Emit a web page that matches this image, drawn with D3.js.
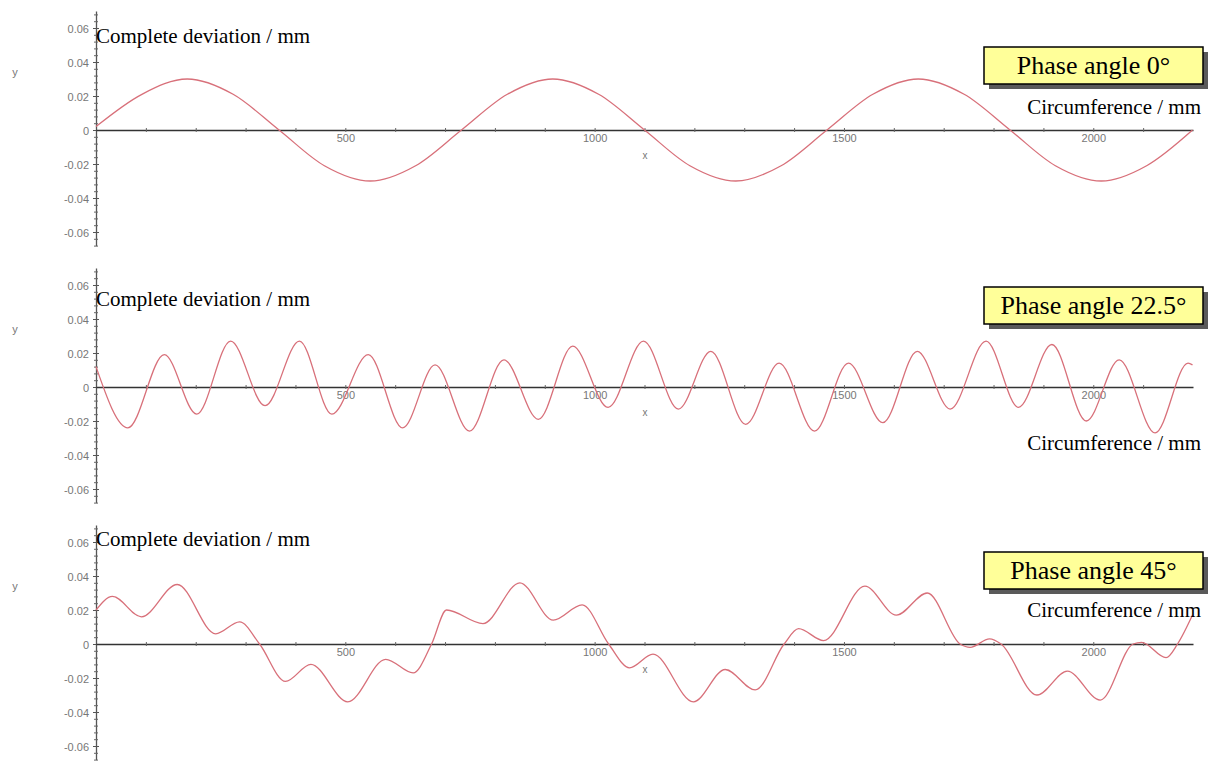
<!DOCTYPE html>
<html>
<head>
<meta charset="utf-8">
<script src="https://cdn.jsdelivr.net/npm/d3@7"></script>
<style>
  body { margin: 0; background: #fff; }
  .tick text { font-family: "Liberation Sans", Arial, sans-serif; font-size: 11px; fill: #777; }
  .serif { font-family: "Liberation Serif", "Times New Roman", serif; fill: #000; }
</style>
</head>
<body>
<svg id="chart" width="1208" height="761"></svg>
<script>
// circumference axis (mm) and deviation ticks
var xMajor = [500, 1000, 1500, 2000],
  yMajor = [-0.06, -0.04, -0.02, 0, 0.02, 0.04, 0.06],
  phaseLabels = ['Phase angle 0°', 'Phase angle 22.5°', 'Phase angle 45°'];

// phase angle 0
var xTop = [0, 92, 183, 275, 367, 458, 550, 641, 733, 825, 916, 1008, 1100,
  1191, 1283, 1374, 1466, 1558, 1649, 1741, 1833, 1924, 2016, 2107, 2199];
var yTop = [0.002, 0.021, 0.030, 0.021, 0, -0.021, -0.030, -0.021, 0, 0.021, 0.030, 0.021, 0,
  -0.021, -0.030, -0.021, 0, 0.021, 0.030, 0.021, 0, -0.021, -0.030, -0.021, 0];

// phase angle 22.5
var xMid = [0, 64, 137, 202, 270, 339, 408, 473, 546, 615, 680, 749, 818, 887, 956, 1027,
  1098, 1168, 1233, 1303, 1370, 1441, 1509, 1578, 1647, 1713, 1785, 1850, 1917, 1986,
  2052, 2124, 2190, 2199];
var yMid = [0.012, -0.024, 0.019, -0.016, 0.027, -0.011, 0.027, -0.016, 0.019, -0.024, 0.013,
  -0.026, 0.016, -0.019, 0.024, -0.012, 0.027, -0.013, 0.021, -0.022, 0.014, -0.026, 0.014,
  -0.021, 0.021, -0.013, 0.027, -0.012, 0.025, -0.020, 0.016, -0.027, 0.014, 0.013];

// phase angle 45
var xBot = [0, 33, 91, 163, 240, 288, 328, 380, 431, 505, 581, 636, 673, 703, 776, 850, 917,
  975, 1028, 1070, 1117, 1198, 1262, 1322, 1380, 1409, 1459, 1542, 1605, 1667, 1733, 1753,
  1792, 1815, 1887, 1948, 2014, 2080, 2097, 2146, 2169, 2199];
var yBot = [0.020, 0.028, 0.016, 0.035, 0.006, 0.013, 0, -0.022, -0.012, -0.034, -0.009,
  -0.017, 0, 0.020, 0.012, 0.036, 0.014, 0.023, 0, -0.014, -0.006, -0.034, -0.015, -0.027,
  0, 0.009, 0.002, 0.034, 0.017, 0.030, 0, -0.002, 0.003, 0, -0.030, -0.016, -0.033, 0,
  0.001, -0.008, 0, 0.017];

var panels = [
  { xs: xTop, ys: yTop, label: phaseLabels[0], zero: 130, box: -83, circ: -16, dev: -87 },
  { xs: xMid, ys: yMid, label: phaseLabels[1], zero: 387, box: -100, circ: 63, dev: -81 },
  { xs: xBot, ys: yBot, label: phaseLabels[2], zero: 644, box: -92, circ: -27, dev: -98 }
];

var svg = d3.select('#chart');

var x = d3.scaleLinear().domain([0, 2200]).range([96, 1193]);

panels.forEach(function(p) {
  var y = d3.scaleLinear().domain([-0.068, 0.07]).range([p.zero + 115.6, p.zero - 119]);
  var g = svg.append('g');

  // y axis: minor ticks
  g.append('g')
    .attr('transform', 'translate(96,0)')
    .call(d3.axisLeft(y).tickValues(d3.range(-0.068, 0.0681, 0.004)).tickSize(2).tickSizeOuter(0).tickFormat(''))
    .call(function(a) {
      a.select('.domain').attr('stroke', '#555').attr('stroke-width', 1.3);
      a.selectAll('.tick line').attr('x1', -2).attr('x2', 2).attr('stroke', '#666');
    });

  // y axis: major ticks + labels
  g.append('g')
    .attr('transform', 'translate(96,0)')
    .call(d3.axisLeft(y).tickValues(yMajor).tickSize(3).tickPadding(4)
      .tickFormat(function(d) { return Math.abs(d) < 1e-9 ? '0' : d.toFixed(2); }))
    .call(function(a) {
      a.select('.domain').remove();
      a.selectAll('.tick line').attr('x1', -3).attr('x2', 3).attr('stroke', '#555');
      a.selectAll('.tick text').attr('dy', '0.42em');
    });

  // x axis: minor ticks
  g.append('g')
    .attr('transform', 'translate(0,' + p.zero + ')')
    .call(d3.axisBottom(x).tickValues(d3.range(100, 2200, 100)).tickSize(2).tickSizeOuter(0).tickFormat(''))
    .call(function(a) {
      a.select('.domain').attr('stroke', '#333').attr('stroke-width', 1.4);
      a.selectAll('.tick line').attr('y1', -2).attr('y2', 2).attr('stroke', '#666');
    });

  // x axis: labels
  g.append('g')
    .attr('transform', 'translate(0,' + p.zero + ')')
    .call(d3.axisBottom(x).tickValues(xMajor).tickSize(0).tickPadding(4).tickFormat(d3.format('d')))
    .call(function(a) {
      a.select('.domain').remove();
    });

  // axis names
  g.append('text').attr('x', 15).attr('y', p.zero - 54)
    .attr('text-anchor', 'middle')
    .style('font-family', 'Liberation Sans, Arial, sans-serif').style('font-size', '11px').style('fill', '#777')
    .text('y');
  g.append('text').attr('x', 645).attr('y', p.zero + 29)
    .attr('text-anchor', 'middle')
    .style('font-family', 'Liberation Sans, Arial, sans-serif').style('font-size', '10px').style('fill', '#777')
    .text('x');

  // curve
  var line = d3.line()
    .x(function(d) { return x(d[0]); })
    .y(function(d) { return y(d[1]); })
    .curve(d3.curveMonotoneX);
  g.append('path')
    .datum(d3.zip(p.xs, p.ys))
    .attr('d', line)
    .attr('fill', 'none')
    .attr('stroke', '#d8707a')
    .attr('stroke-width', 1.3);

  // titles
  g.append('text').attr('class', 'serif').attr('x', 96).attr('y', p.zero + p.dev)
    .style('font-size', '21px').text('Complete deviation / mm');
  g.append('text').attr('class', 'serif').attr('x', 1201).attr('y', p.zero + p.circ)
    .attr('text-anchor', 'end').style('font-size', '21px').text('Circumference / mm');

  // phase angle box
  var by = p.zero + p.box;
  g.append('rect').attr('x', 989).attr('y', by + 5).attr('width', 219).attr('height', 37).attr('fill', '#5a5a5a');
  g.append('rect').attr('x', 984).attr('y', by).attr('width', 219).attr('height', 37)
    .attr('fill', '#ffff99').attr('stroke', '#000').attr('stroke-width', 1.5);
  g.append('text').attr('class', 'serif').attr('x', 984 + 219 / 2).attr('y', by + 27)
    .attr('text-anchor', 'middle').style('font-size', '26px').text(p.label);
});
</script>
</body>
</html>
